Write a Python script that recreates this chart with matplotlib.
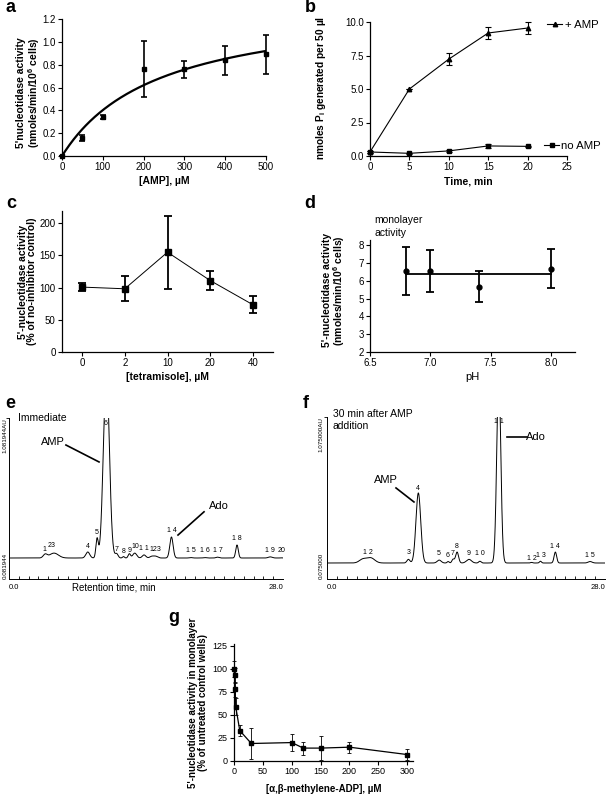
import numpy as np
import matplotlib
matplotlib.use("Agg")
import matplotlib.pyplot as plt

plt.rcParams['font.family'] = ['Liberation Sans', 'DejaVu Sans']
plt.rcParams['mathtext.fontset'] = 'custom'
plt.rcParams['mathtext.rm'] = 'Liberation Sans'
plt.rcParams['mathtext.bf'] = 'Liberation Sans:bold'
plt.rcParams['mathtext.it'] = 'Liberation Sans:italic'
plt.rcParams['axes.linewidth'] = 0.9

# ---------------- data ----------------
# (a) AMP dependence
a_amp = [0, 50, 100, 200, 300, 400, 500]
a_act = [0.0, 0.16, 0.34, 0.76, 0.76, 0.84, 0.89]
a_err = [0.0, 0.025, 0.02, 0.245, 0.076, 0.127, 0.168]
a_vmax = 1.358   # Michaelis-Menten fit
a_km = 238.0

# (b) time course
b_time = [0, 5, 10, 15, 20]
b_amp = [0.3, 5.0, 7.23, 9.18, 9.55]
b_amp_err = [0.05, 0.0, 0.47, 0.42, 0.42]
b_noamp = [0.3, 0.2, 0.38, 0.75, 0.72]
b_noamp_err = [0.05, 0.05, 0.05, 0.15, 0.05]

# (c) tetramisole
c_conc = ['0', '2', '10', '20', '40']
c_act = [100.8, 98.2, 155.0, 111.0, 73.4]
c_err = [6.7, 19.4, 57.0, 15.0, 13.0]

# (d) pH
d_ph = [6.8, 7.0, 7.4, 8.0]
d_act = [6.55, 6.55, 5.67, 6.68]
d_err = [1.33, 1.16, 0.88, 1.1]

# (e) chromatogram, immediate: retention time (min), height (AU), width (min)
e_baseline = 0.081944
e_top = 1.081944
e_rt = [3.7, 4.6, 8.05, 9.0, 9.95, 11.0, 11.7, 12.3, 12.85, 13.8, 14.6, 15.0, 16.6, 18.6, 20.0, 21.3, 23.3, 26.7, 27.8]
e_h = [0.025, 0.035, 0.043, 0.136, 1.35, 0.03, 0.01, 0.03, 0.035, 0.022, 0.012, 0.012, 0.15, 0.003, 0.003, 0.006, 0.093, 0.008, 0.002]
e_w = [0.2, 0.45, 0.2, 0.12, 0.3, 0.15, 0.1, 0.12, 0.2, 0.18, 0.2, 0.2, 0.17, 0.15, 0.15, 0.15, 0.13, 0.2, 0.1]
e_lab = ['1', '23', '4', '5', '6', '7', '8', '9', '10', '1 1', '123', '1 4', '1 5', '1 6', '1 7', '1 8', '1 9', '20']
e_lab_t = [3.58, 4.39, 8.07, 8.99, 9.91, 11.04, 11.75, 12.36, 12.88, 13.8, 15.0, 16.66, 18.6, 20.03, 21.36, 23.3, 26.67, 27.9]
e_lab_h = [0.064, 0.086, 0.079, 0.18, 0.96, 0.064, 0.043, 0.057, 0.079, 0.071, 0.064, 0.2, 0.05, 0.05, 0.057, 0.136, 0.057, 0.05]

# (f) chromatogram, 30 min after AMP
f_baseline = 0.075
f_top = 1.075
f_rt = [3.6, 4.4, 8.2, 9.2, 11.3, 12.2, 12.7, 13.1, 14.3, 15.4, 17.3, 20.6, 21.5, 23.0, 26.5]
f_h = [0.025, 0.035, 0.025, 0.48, 0.02, 0.01, 0.025, 0.075, 0.025, 0.012, 1.3, 0.004, 0.012, 0.075, 0.01]
f_w = [0.35, 0.4, 0.15, 0.24, 0.2, 0.1, 0.12, 0.15, 0.25, 0.12, 0.2, 0.1, 0.1, 0.13, 0.2]
f_lab = ['1 2', '3', '4', '5', '6', '7', '8', '9', '1 0', '1 1', '1 2', '1 3', '1 4', '1 5']
f_lab_t = [4.13, 8.26, 9.16, 11.28, 12.19, 12.69, 13.09, 14.3, 15.41, 17.32, 20.64, 21.55, 22.96, 26.49]
f_lab_h = [0.075, 0.075, 0.51, 0.068, 0.048, 0.068, 0.116, 0.068, 0.062, 0.97, 0.034, 0.048, 0.116, 0.048]

# (g) alpha,beta-methylene-ADP
g_conc = [0, 1, 2, 3, 10, 30, 100, 120, 150, 200, 300]
g_act = [100, 93, 78, 59, 33, 19, 20, 14, 14, 15, 7]
g_err = [9, 8, 8, 9, 6, 17, 9, 7, 13, 6, 6]

# ---------------- figure ----------------
W, H = 609, 797
fig = plt.figure(figsize=(W / 100, H / 100), dpi=100)


def box(x0, x1, ytop, ybot):
    return [x0 / W, 1 - ybot / H, (x1 - x0) / W, (ybot - ytop) / H]


TICK = 7
LAB = 7.5


def prism(ax):
    for s in ('top', 'right'):
        ax.spines[s].set_visible(False)
    ax.tick_params(labelsize=TICK, length=3, width=0.8, pad=1.5, direction='out')


# ---- a ----
ax = fig.add_axes(box(62, 266, 19, 156))
prism(ax)
xs = np.linspace(0, 500, 300)
ax.plot(xs, a_vmax * xs / (a_km + xs), color='black', lw=1.6)
ax.errorbar(a_amp, a_act, yerr=a_err, fmt='s', color='black', ms=3.2, elinewidth=1.2,
            capsize=2.5, capthick=1.2, clip_on=False)
ax.set_xlim(0, 500)
ax.set_ylim(0, 1.2)
ax.set_xticks([0, 100, 200, 300, 400, 500])
ax.set_yticks(np.arange(0, 1.21, 0.2))
ax.set_yticklabels(['%.1f' % v for v in np.arange(0, 1.21, 0.2)])
ax.set_xlabel('[AMP], µM', fontsize=LAB, fontweight='bold', labelpad=3)
ax.set_ylabel("5'nucleotidase activity\n(nmoles/min/10$^{\\mathbf{6}}$ cells)", fontsize=LAB,
              fontweight='bold', linespacing=0.95)
ax.yaxis.set_label_coords(-0.1, 0.46)

# ---- b ----
ax = fig.add_axes(box(370, 567, 22, 156))
prism(ax)
l1, = ax.plot(b_time, b_amp, '-^', color='black', lw=0.8, ms=3.2, clip_on=False)
ax.errorbar(b_time, b_amp, yerr=b_amp_err, fmt='none', ecolor='black', elinewidth=0.8,
            capsize=2, capthick=0.8, clip_on=False)
l2, = ax.plot(b_time, b_noamp, '-s', color='black', lw=0.8, ms=3.2, clip_on=False)
ax.errorbar(b_time, b_noamp, yerr=b_noamp_err, fmt='none', ecolor='black', elinewidth=0.8,
            capsize=2, capthick=0.8, clip_on=False)
ax.set_xlim(0, 25)
ax.set_ylim(0, 10)
ax.set_xticks([0, 5, 10, 15, 20, 25])
ax.set_yticks([0, 2.5, 5, 7.5, 10])
ax.set_yticklabels(['0.0', '2.5', '5.0', '7.5', '10.0'])
ax.set_xlabel('Time, min', fontsize=LAB, fontweight='bold', labelpad=3)
ax.set_ylabel('nmoles P$_{\\mathbf{i}}$ generated per 50 µl', fontsize=7.3, fontweight='bold')
ax.yaxis.set_label_coords(-0.215, 0.51)
leg1 = ax.legend([l1], ['+ AMP'], loc='center left', bbox_to_anchor=(0.9, 0.975), frameon=False,
                 handlelength=1.3, handletextpad=0.25, borderpad=0, borderaxespad=0,
                 prop={'size': 8.2})
ax.add_artist(leg1)
ax.legend([l2], ['no AMP'], loc='center left', bbox_to_anchor=(0.885, 0.075), frameon=False,
          handlelength=1.3, handletextpad=0.2, borderpad=0, borderaxespad=0,
          prop={'size': 8.2})

# ---- c ----
ax = fig.add_axes(box(62, 273, 211, 352))
prism(ax)
cx = np.arange(len(c_conc))
ax.plot(cx, c_act, '-', color='black', lw=0.7)
ax.errorbar(cx, c_act, yerr=c_err, fmt='s', color='black', ms=4.3, elinewidth=1.3,
            capsize=2.8, capthick=1.3)
ax.set_xlim(-0.47, 4.47)
ax.set_ylim(0, 219)
ax.set_xticks(cx)
ax.set_xticklabels(c_conc)
ax.set_yticks([0, 50, 100, 150, 200])
ax.set_xlabel('[tetramisole], µM', fontsize=LAB, fontweight='bold', labelpad=3)
ax.set_ylabel("5'-nucleotidase activity\n(% of no-inhibitor control)", fontsize=LAB,
              fontweight='bold', linespacing=0.95)
ax.yaxis.set_label_coords(-0.118, 0.5)

# ---- d ----
ax = fig.add_axes(box(370, 575, 240, 352))
prism(ax)
ax.errorbar(d_ph, d_act, yerr=d_err, fmt='o', color='black', ms=3.5, elinewidth=1.3,
            capsize=2.8, capthick=1.3)
d_mean = float(np.mean(d_act))
ax.plot([min(d_ph), max(d_ph)], [d_mean, d_mean], color='black', lw=1.3)
ax.set_xlim(6.5, 8.2)
ax.set_ylim(2, 8.3)
ax.set_xticks([6.5, 7.0, 7.5, 8.0])
ax.set_xticklabels(['6.5', '7.0', '7.5', '8.0'])
ax.set_yticks([2, 3, 4, 5, 6, 7, 8])
ax.set_xlabel('pH', fontsize=8, labelpad=3)
ax.set_ylabel("5'-nucleotidase activity\n(nmoles/min/10$^{\\mathbf{6}}$ cells)", fontsize=LAB,
              fontweight='bold', linespacing=0.95)
ax.yaxis.set_label_coords(-0.112, 0.55)
ax.text(0.02, 1.22, 'monolayer\nactivity', transform=ax.transAxes, fontsize=7.5,
        va='top', ha='left', linespacing=1.3)


# ---- chromatograms ----
def chrom(rect, base, top, rt, h, w, labs, lab_t, lab_h, toplabel, bottomlabel, ylab_x):
    ax = fig.add_axes(rect)
    t = np.linspace(0, 28, 4000)
    trace = np.full_like(t, base)
    for r, hh, ww in zip(rt, h, w):
        trace = trace + hh * np.exp(-0.5 * ((t - r) / ww) ** 2)
    ax.plot(t, trace, color='black', lw=0.7)
    ax.set_xlim(0, 28)
    ax.spines['top'].set_visible(False)
    ax.spines['right'].set_visible(False)
    ax.spines['left'].set_linewidth(0.7)
    ax.spines['bottom'].set_linewidth(0.7)
    ax.set_xticks(np.arange(1, 28, 1))
    ax.set_xticklabels([])
    ax.tick_params(axis='x', direction='in', length=2.5, width=0.6)
    ax.set_yticks([top])
    ax.set_yticklabels([])
    ax.tick_params(axis='y', direction='out', length=2.5, width=0.6)
    for lab, lt, lh in zip(labs, lab_t, lab_h):
        ax.text(lt, base + lh, lab, fontsize=5, ha='center', va='center')
    ax.text(0.0, -0.055, '0.0', transform=ax.transAxes, fontsize=5.5, ha='left', va='center')
    ax.text(1.0, -0.055, '28.0', transform=ax.transAxes, fontsize=5.5, ha='right', va='center')
    ax.text(ylab_x, 1.0, toplabel, transform=ax.transAxes, fontsize=4.5, rotation=90,
            ha='center', va='top')
    ax.text(ylab_x, 0.0, bottomlabel, transform=ax.transAxes, fontsize=4.5, rotation=90,
            ha='center', va='bottom')
    return ax


ax = chrom(box(9, 283, 418, 579), e_baseline, e_top, e_rt, e_h, e_w, e_lab, e_lab_t, e_lab_h,
           '1.081944AU', '0.081944', -0.015)
ax.set_ylim(e_baseline - 0.15, e_top)
ax.text(0.033, 1.0, 'Immediate', transform=ax.transAxes, fontsize=7.5, ha='left', va='center')
ax.text(0.383, -0.055, 'Retention time, min', transform=ax.transAxes, fontsize=7, ha='center',
        va='center')
ax.text(4.5, e_baseline + 0.83, 'AMP', fontsize=8, ha='center', va='center')
ax.plot([5.82, 9.2], [e_baseline + 0.807, e_baseline + 0.686], color='black', lw=1.2)
ax.text(21.46, e_baseline + 0.371, 'Ado', fontsize=8, ha='center', va='center')
ax.plot([19.93, 17.27], [e_baseline + 0.33, e_baseline + 0.164], color='black', lw=1.2)

ax = chrom(box(327, 605, 417, 579), f_baseline, f_top, f_rt, f_h, f_w, f_lab, f_lab_t, f_lab_h,
           '1.075000AU', '0.075000', -0.022)
ax.set_ylim(f_baseline - 16 / 146, f_top)
ax.text(0.02, 1.05, '30 min after AMP\naddition', transform=ax.transAxes, fontsize=7.5,
        ha='left', va='top', linespacing=1.2)
ax.text(5.94, f_baseline + 0.568, 'AMP', fontsize=8, ha='center', va='center')
ax.plot([6.95, 8.76], [f_baseline + 0.514, f_baseline + 0.418], color='black', lw=1.2)
ax.text(21.05, f_baseline + 0.86, 'Ado', fontsize=8, ha='center', va='center')
ax.plot([18.13, 20.14], [f_baseline + 0.863, f_baseline + 0.863], color='black', lw=1.2)

# ---- g ----
ax = fig.add_axes(box(234, 413, 644, 761))
prism(ax)
ax.tick_params(labelsize=6.5)
ax.plot(g_conc, g_act, '-s', color='black', lw=0.9, ms=2.2, clip_on=False)
ax.errorbar(g_conc, g_act, yerr=g_err, fmt='none', ecolor='black', elinewidth=0.6,
            capsize=1.6, capthick=0.6, clip_on=False)
ax.set_xlim(0, 310)
ax.set_ylim(0, 127)
ax.set_xticks([0, 50, 100, 150, 200, 250, 300])
ax.set_yticks([0, 25, 50, 75, 100, 125])
ax.set_xlabel('[α,β-methylene-ADP], µM', fontsize=7, fontweight='bold')
ax.xaxis.set_label_coords(0.5, -0.2)
ax.set_ylabel("5'-nucleotidase activity in monolayer\n(% of untreated control wells)", fontsize=7,
              fontweight='bold', linespacing=0.95)
ax.yaxis.set_label_coords(-0.145, 0.5)

# ---- panel letters ----
for lx, ly, s in [(10, 8, 'a'), (310, 8, 'b'), (11, 204, 'c'), (310, 203, 'd'),
                  (10, 404, 'e'), (306, 403, 'f'), (174, 617, 'g')]:
    fig.text(lx / W, 1 - ly / H, s, fontsize=13, fontweight='bold', ha='center', va='center')

fig.savefig('out.png', dpi=100)
